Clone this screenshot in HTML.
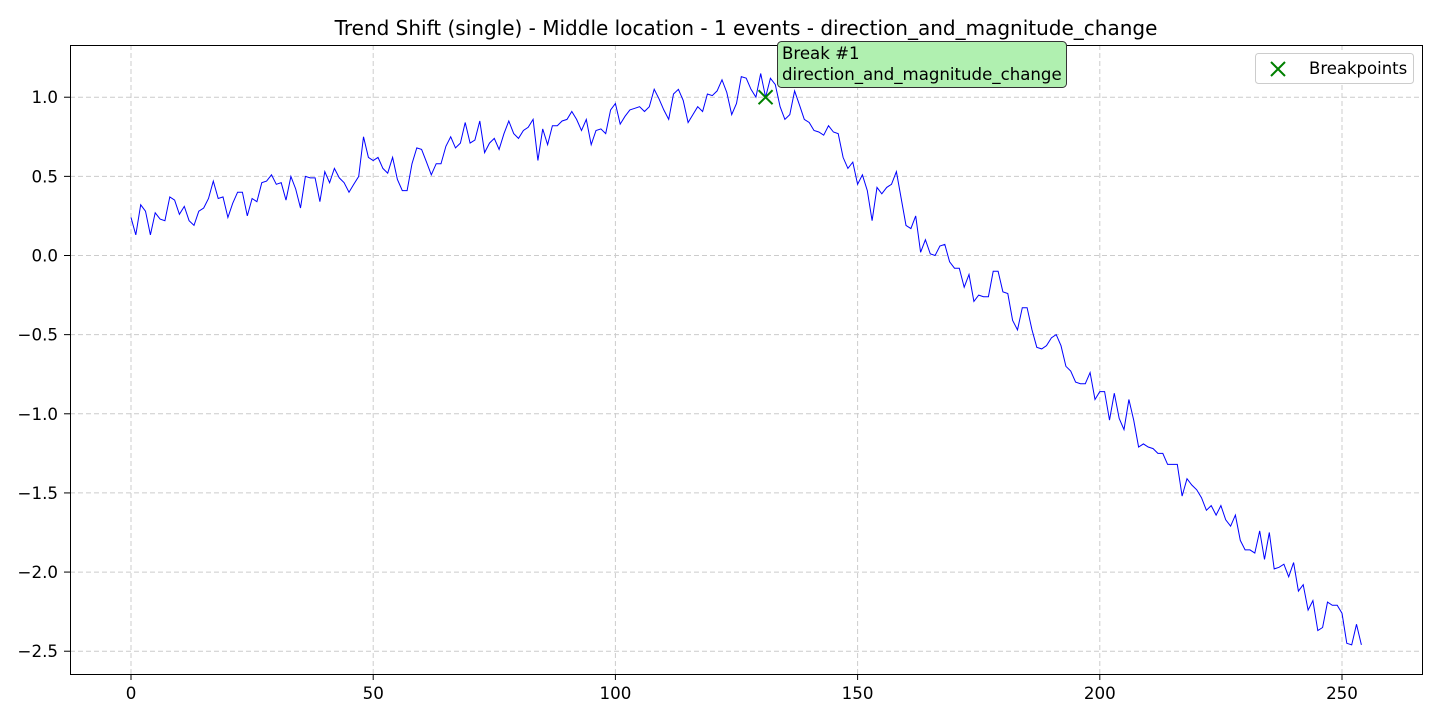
<!DOCTYPE html>
<html><head><meta charset="utf-8"><style>
body{margin:0;background:#fff;}
svg text{font-family:"DejaVu Sans","Liberation Sans",sans-serif;}
</style></head><body>
<svg id="chart" width="1440" height="720" xmlns="http://www.w3.org/2000/svg">
<rect width="1440" height="720" fill="#fff"/>
<g id="grid"></g>
<g id="ticks"></g>
<g id="series"></g>
<rect x="70.5" y="45.5" width="1352" height="629" fill="none" stroke="#000" stroke-width="1"/>
<text x="746" y="35" font-size="20" text-anchor="middle">Trend Shift (single) - Middle location - 1 events - direction_and_magnitude_change</text>
<g>
<rect x="1255.5" y="53.5" width="158" height="30" rx="3" fill="#fff" stroke="#ccc"/>
<path d="M1271 62 L1285 76 M1285 62 L1271 76" stroke="green" stroke-width="2"/>
<text x="1309" y="74" font-size="16.5">Breakpoints</text>
</g>
<g id="annot">
<rect x="777.5" y="41.5" width="289" height="46" rx="4" fill="#b0f0b0" stroke="#333"/>
<text x="782" y="59" font-size="16.6">Break #1</text>
<text x="782" y="80" font-size="16.6">direction_and_magnitude_change</text>
</g>
</svg>
<script>
const yValues=[0.24,0.13,0.32,0.28,0.13,0.27,0.23,0.22,0.37,0.35,0.26,0.31,0.22,0.19,0.28,0.30,0.36,0.47,0.36,0.37,0.24,0.33,0.40,0.40,0.25,0.36,0.34,0.46,0.47,0.51,0.45,0.46,0.35,0.50,0.42,0.30,0.50,0.49,0.49,0.34,0.53,0.46,0.55,0.49,0.46,0.40,0.45,0.50,0.75,0.62,0.60,0.62,0.55,0.52,0.62,0.48,0.41,0.41,0.58,0.68,0.67,0.59,0.51,0.58,0.58,0.69,0.75,0.68,0.71,0.84,0.71,0.73,0.85,0.65,0.71,0.74,0.67,0.77,0.85,0.77,0.74,0.79,0.81,0.86,0.60,0.80,0.70,0.82,0.82,0.85,0.86,0.91,0.86,0.79,0.86,0.70,0.79,0.80,0.77,0.92,0.96,0.83,0.88,0.92,0.93,0.94,0.91,0.94,1.05,0.99,0.92,0.86,1.02,1.05,0.98,0.84,0.89,0.94,0.91,1.02,1.01,1.04,1.11,1.03,0.89,0.96,1.13,1.12,1.05,1.00,1.15,1.00,1.12,1.08,0.94,0.86,0.89,1.04,0.95,0.86,0.84,0.79,0.78,0.76,0.82,0.78,0.77,0.62,0.55,0.59,0.45,0.51,0.41,0.22,0.43,0.39,0.43,0.45,0.53,0.36,0.19,0.17,0.25,0.02,0.10,0.01,0.00,0.06,0.07,-0.04,-0.08,-0.08,-0.20,-0.12,-0.29,-0.25,-0.26,-0.26,-0.10,-0.10,-0.23,-0.24,-0.41,-0.47,-0.33,-0.33,-0.47,-0.58,-0.59,-0.57,-0.52,-0.50,-0.57,-0.70,-0.73,-0.80,-0.81,-0.81,-0.74,-0.91,-0.86,-0.86,-1.04,-0.87,-1.03,-1.10,-0.91,-1.04,-1.21,-1.19,-1.21,-1.22,-1.25,-1.25,-1.32,-1.32,-1.32,-1.52,-1.41,-1.45,-1.48,-1.53,-1.61,-1.58,-1.64,-1.58,-1.67,-1.71,-1.64,-1.80,-1.86,-1.86,-1.88,-1.74,-1.92,-1.75,-1.98,-1.97,-1.95,-2.03,-1.94,-2.12,-2.08,-2.24,-2.18,-2.37,-2.35,-2.19,-2.21,-2.21,-2.26,-2.45,-2.46,-2.33,-2.46];
const breakIndices=[131];
const xTicks=[0,50,100,150,200,250];
const yTicks=[1.0,0.5,0.0,-0.5,-1.0,-1.5,-2.0,-2.5];
const yTickLabels=["1.0","0.5","0.0","−0.5","−1.0","−1.5","−2.0","−2.5"];
const NS="http://www.w3.org/2000/svg";
function sx(i){return 131+i*(1342-131)/250;}
function sy(v){return 255.5-v*(651-97)/3.5;}
const grid=document.getElementById('grid'),ticks=document.getElementById('ticks'),series=document.getElementById('series');
function mk(tag,attrs,parent){const e=document.createElementNS(NS,tag);for(const k in attrs)e.setAttribute(k,attrs[k]);parent.appendChild(e);return e;}
xTicks.forEach(t=>{const x=sx(t);
const g=mk('line',{x1:x,x2:x,y1:45,y2:674,stroke:'#ccc','stroke-dasharray':'5,3'},grid);


const tk=mk('line',{x1:x,x2:x,y1:674,y2:680,stroke:'#000'},ticks);


const tx=mk('text',{x:x,y:699,'font-size':16.7,'text-anchor':'middle'},ticks);tx.textContent=String(t);


});
yTicks.forEach((t,i)=>{const y=sy(t);
const g=mk('line',{x1:70,x2:1422,y1:y,y2:y,stroke:'#ccc','stroke-dasharray':'5,3'},grid);


const tk=mk('line',{x1:64,x2:70,y1:y,y2:y,stroke:'#000'},ticks);


const tx=mk('text',{x:58,y:y+6,'font-size':16.7,'text-anchor':'end'},ticks);tx.textContent=yTickLabels[i];


});
const line=mk('polyline',{points:yValues.map((v,i)=>sx(i).toFixed(1)+','+sy(v).toFixed(1)).join(' '),fill:'none',stroke:'blue','stroke-width':1},series);


breakIndices.forEach(b=>{const x=sx(b),y=sy(yValues[b]);
const m=mk('path',{d:`M${x-7} ${y-7} L${x+7} ${y+7} M${x+7} ${y-7} L${x-7} ${y+7}`,stroke:'green','stroke-width':2},series);


});
</script>
</body></html>
